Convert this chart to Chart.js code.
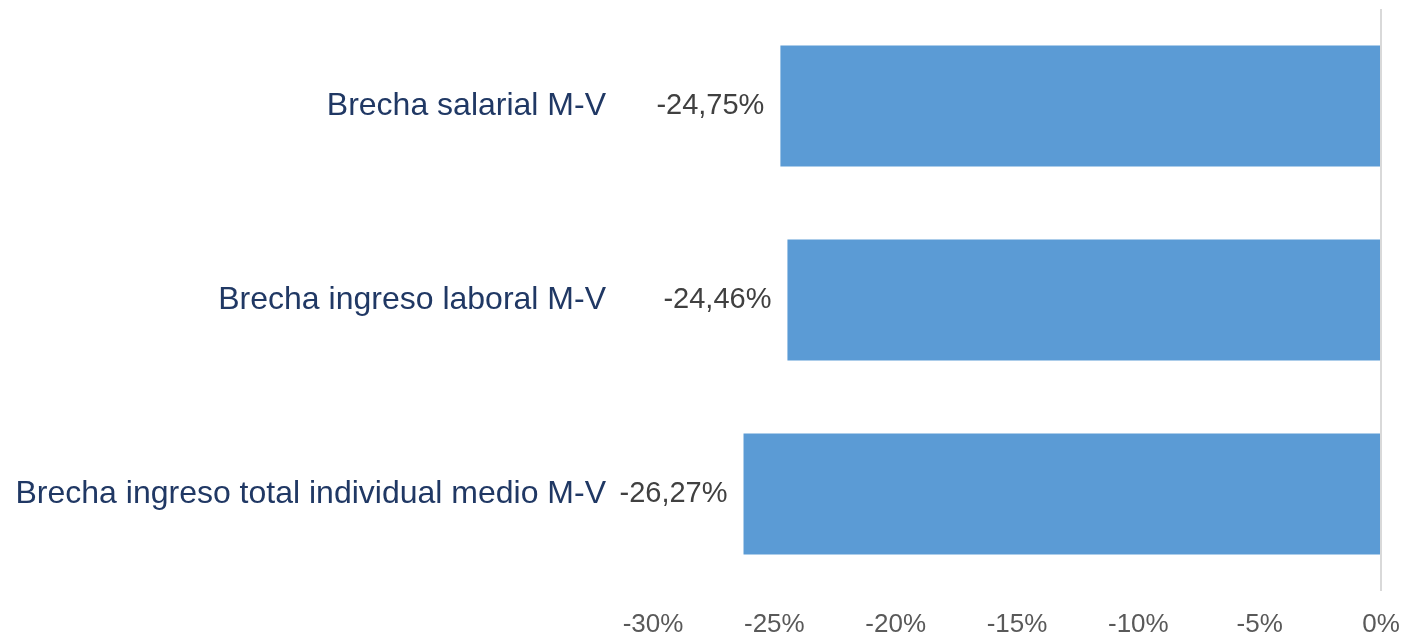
<!DOCTYPE html>
<html>
<head>
<meta charset="utf-8">
<script src="https://cdn.jsdelivr.net/npm/chart.js@4"></script>
<style>
  html, body { margin: 0; padding: 0; background: #fff; }
  #wrap { width: 1424px; height: 638px; }
</style>
</head>
<body>
<div id="wrap"><canvas id="myChart"></canvas></div>
<script>
// datos del grafico
const categorias = ["Brecha salarial M-V", "Brecha ingreso laboral M-V", "Brecha ingreso total individual medio M-V"];
const brechas = [-24.75, -24.46, -26.27];
const ticksX = [-30, -25, -20, -15, -10, -5, 0];

const fmt = v => v.toFixed(2).replace('.', ',') + '%';

// etiquetas de datos a la izquierda de cada barra
const etiquetas = {
  id: 'etiquetas',
  afterDatasetsDraw(chart) {
    const c = chart.ctx;
    const meta = chart.getDatasetMeta(0);
    c.save();
    c.font = '29px "Liberation Sans", Arial, sans-serif';
    c.fillStyle = '#404040';
    c.textAlign = 'right';
    c.textBaseline = 'middle';
    meta.data.forEach((bar, i) => {
      c.fillText(fmt(brechas[i]), bar.x - 16, bar.y);
    });
    c.restore();
  }
};

// quitar el relleno automatico que chart.js agrega por el padding de los ticks
const sinRelleno = s => {
  s.paddingTop = 0;
  s.paddingBottom = 0;
  s.paddingLeft = 0;
  s.paddingRight = 0;
};

const ctx = document.getElementById('myChart');

new Chart(ctx, {
  type: 'bar',
  data: {
    labels: categorias,
    datasets: [{
      data: brechas,
      backgroundColor: '#5b9bd5',
      borderWidth: 0,
      categoryPercentage: 1,
      barPercentage: 0.624
    }]
  },
  options: {
    indexAxis: 'y',
    responsive: true,
    maintainAspectRatio: false,
    animation: false,
    layout: { padding: { left: 17, right: 43, top: 9, bottom: 0 } },
    plugins: {
      legend: { display: false },
      tooltip: { enabled: false }
    },
    scales: {
      x: {
        min: -30,
        max: 0,
        afterBuildTicks: axis => { axis.ticks = ticksX.map(v => ({ value: v })); },
        afterFit: s => { sinRelleno(s); s.height = 47; },
        grid: {
          drawTicks: false,
          color: c => c.tick && c.tick.value === 0 ? '#d9d9d9' : 'rgba(0,0,0,0)',
          lineWidth: 2
        },
        border: { display: false },
        ticks: {
          padding: 21,
          color: '#595959',
          font: { family: '"Liberation Sans", Arial, sans-serif', size: 26, lineHeight: 1 },
          callback: v => v + '%'
        }
      },
      y: {
        afterFit: s => { sinRelleno(s); s.width = 636; },
        grid: { display: false, drawTicks: false },
        border: { display: false },
        ticks: {
          padding: 47,
          color: '#203864',
          font: { family: '"Liberation Sans", Arial, sans-serif', size: 32 }
        }
      }
    }
  },
  plugins: [etiquetas]
});
</script>
</body>
</html>
